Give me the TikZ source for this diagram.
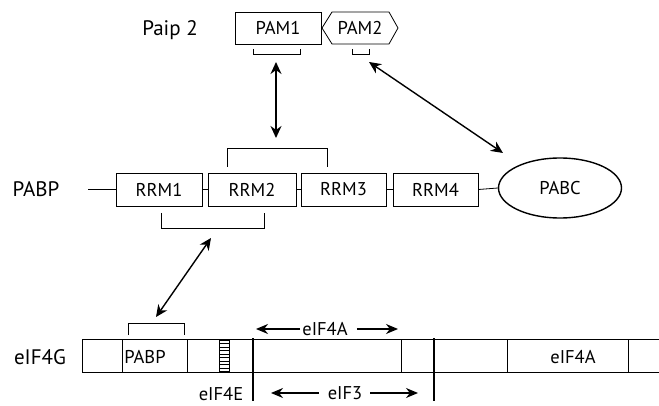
\documentclass[tikz,border=0pt]{standalone}
\usepackage{fontspec}
\setmainfont{PT Sans}
\usetikzlibrary{arrows.meta,shapes.geometric}
\begin{document}
\begin{tikzpicture}[x=1pt,y=-1pt,
  every node/.style={font=\fontsize{18.5}{20}\selectfont, inner sep=0pt},
  dom/.style={draw, line width=0.8pt, minimum height=33pt},
  thin/.style={line width=0.8pt},
  thick2/.style={line width=1.4pt},
  bracket/.style={line width=1pt},
  link/.style={line width=1.4pt, {Stealth[length=12pt,width=11pt]}-{Stealth[length=12pt,width=11pt]}},
  span/.style={line width=1.2pt, -{Stealth[length=12pt,width=10pt]}},
  biglabel/.style={font=\fontsize{21}{23}\selectfont}]
\useasboundingbox (0,0) rectangle (659,406);

% Paip2 and its two motifs
\node[biglabel] (paip) at (170,30) {Paip 2};
\node[dom, minimum width=86pt, minimum height=32pt] (pam1) at (278,28) {PAM1};
\node (pam2) at (360,28) {PAM2};
\draw[thin] (322,28) -- (332,12) -- (389,12) -- (398,28) -- (389,44) -- (332,44) -- cycle;
\draw[bracket] (253,49) -- (253,55) -- (300,55) -- (300,49);
\draw[bracket] (352,49) -- (352,55) -- (369,55) -- (369,49);

% PABP domain chain
\node[biglabel] (pabp) at (36,189) {PABP};
\node[dom, minimum width=86pt] (rrm1) at (159,189.5) {RRM1};
\node[dom, minimum width=88pt] (rrm2) at (252,189.5) {RRM2};
\node[dom, minimum width=85pt] (rrm3) at (343.5,189.5) {RRM3};
\node[dom, minimum width=85pt] (rrm4) at (435.5,189.5) {RRM4};
\node[draw, ellipse, line width=1.4pt, minimum width=123pt, minimum height=60pt] (pabc) at (560,188) {PABC};
\coordinate (nterm) at (88,189.5);
\draw[thin] (nterm) -- (rrm1.west);
\draw[thin] (rrm1.east) -- (rrm2.west);
\draw[thin] (rrm2.east) -- (rrm3.west);
\draw[thin] (rrm3.east) -- (rrm4.west);
\draw[thin] (rrm4.east) -- (pabc.west);
\draw[bracket] (227,167) -- (227,149) -- (327,149) -- (327,167);
\draw[bracket] (161,213) -- (161,229) -- (264,229) -- (264,213);

% interactions
\coordinate (a1) at (276,62);
\coordinate (a2) at (276,138);
\draw[link] (a1) -- (a2);
\coordinate (b1) at (369,62);
\coordinate (b2) at (503,153);
\draw[link] (b1) -- (b2);
\coordinate (c1) at (211,238);
\coordinate (c2) at (156,317);
\draw[link] (c1) -- (c2);

% eIF4G
\node[biglabel] (eif4g) at (40,357) {eIF4G};
\draw[thin] (82,339) rectangle (665,372);
\foreach \xx in {122,187,401,507,628}
  \draw[thin] (\xx,339) -- (\xx,372);
\draw[thick2] (253,338) -- (253,401);
\draw[thick2] (434,338) -- (434,401);
\draw[thin] (219,340) rectangle (229,371);
\foreach \yy in {343.5,347,350.5,354,357.5,361,364.5,368}
  \draw[thin] (219,\yy) -- (229,\yy);
\draw[bracket] (128,335) -- (128,323) -- (184,323) -- (184,335);
\node (pabpsite) at (145,357) {PABP};
\node (eif4abox) at (573,357) {eIF4A};
\node (eif4e) at (221,394) {eIF4E};

% binding spans
\node (eif4a) at (325,329) {eIF4A};
\coordinate (s1l) at (256,329);
\coordinate (s1r) at (398,329);
\draw[span] (eif4a.west) ++(-2,0) -- (s1l);
\draw[span] (eif4a.east) ++(9,0) -- (s1r);
\node (eif3) at (345,393) {eIF3};
\coordinate (s2l) at (271,393);
\coordinate (s2r) at (418,393);
\draw[span] (eif3.west) ++(-9,0) -- (s2l);
\draw[span] (eif3.east) ++(8,0) -- (s2r);
\end{tikzpicture}
\end{document}
